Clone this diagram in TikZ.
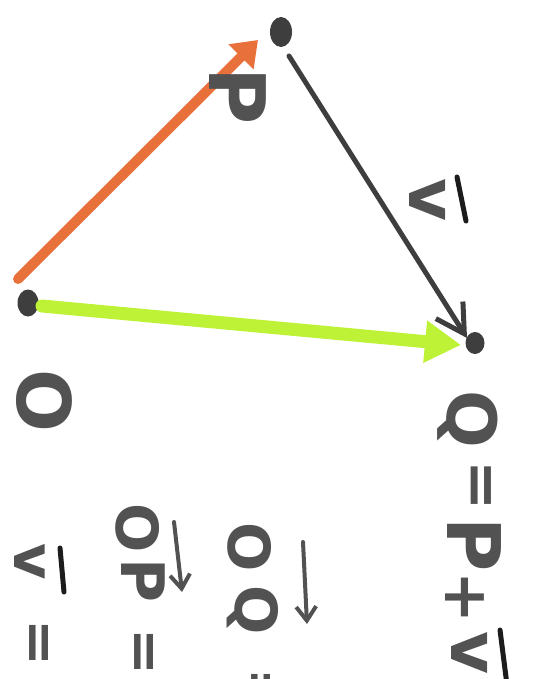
\documentclass[tikz,border=0pt]{standalone}
\usepackage{fontspec}
\setmainfont{DejaVu Sans}
\usetikzlibrary{arrows.meta,shapes.geometric}
\definecolor{orangeink}{HTML}{E8703A}
\definecolor{limeink}{HTML}{BEF236}
\definecolor{grayink}{HTML}{3E3E3E}
\definecolor{textink}{HTML}{525252}
\definecolor{barink}{HTML}{1C1C1C}
\begin{document}
\begin{tikzpicture}[x=1pt,y=-1pt,
  dot/.style={ellipse,fill=grayink,inner sep=0pt,minimum width=21pt,minimum height=27pt},
  hand/.style={text=textink,font=\bfseries\fontsize{#1}{#1}\selectfont,rotate=-90,inner sep=0pt},
  hand/.default=72,
  vbar/.style={draw=barink,line width=5pt,line cap=round},
  vecarrow/.style={draw=textink,line width=4pt,line cap=round,-{Straight Barb[length=14pt,width=20pt]}}
]
\useasboundingbox (0,0) rectangle (552,679);
\clip (0,0) rectangle (552,679);
% points
\node[dot] (O) at (28,303) {};
\node[dot,minimum width=22pt,minimum height=30pt] (P) at (281,32) {};
\node[dot,minimum width=19pt,minimum height=22pt] (Q) at (475,343) {};
% connector end points
\coordinate (os) at (18,279);
\coordinate (pe) at (258,40);
\coordinate (gs) at (42,306);
\coordinate (qe) at (461,345);
\coordinate (ps) at (289,56);
\coordinate (qg) at (467,338);
% vectors
\draw[orangeink,line width=10pt,line cap=round,-{Triangle[length=24pt,width=34pt]}] (os) -- (pe);
\draw[limeink,line width=13pt,line cap=round,-{Triangle[length=36pt,width=40pt]}] (gs) -- (qe);
\draw[grayink,line width=5pt,line cap=round,-{Straight Barb[length=28pt,width=32pt]}] (ps) -- (qg);
% labels in the figure
\node[hand=74] (lO) at (44,401) {O};
\node[hand=78] (lP) at (238,96) {P};
\node[hand=66] (lv) at (428,200) {v};
\coordinate (vb1) at (457,177);
\coordinate (vb2) at (466,221);
\draw[vbar] (vb1) -- (vb2);
% Q = P + v
\node[hand=68] (rQ) at (468,419) {Q};
\node[hand=60] (req) at (477,486) {=};
\node[hand=74] (rP) at (474,545) {P};
\node[hand=62] (rplus) at (465,597) {+};
\node[hand=66] (rv) at (470,653) {v};
\coordinate (rb1) at (500,630);
\coordinate (rb2) at (507,685);
\draw[vbar] (rb1) -- (rb2);
% v =
\node[hand=56] (av) at (30,562) {v};
\coordinate (ab1) at (60,548);
\coordinate (ab2) at (64,592);
\draw[vbar] (ab1) -- (ab2);
\node[hand=56] (aeq) at (35,643) {=};
% OP =
\node[hand=58] (bO) at (138,528) {O};
\node[hand=60] (bP) at (143,580) {P};
\coordinate (ba1) at (174,522);
\coordinate (ba2) at (182,592);
\draw[vecarrow] (ba1) -- (ba2);
\node[hand=56] (beq) at (140,652) {=};
% OQ =
\node[hand=58] (cO) at (250,547) {O};
\node[hand=58] (cQ) at (253,610) {Q};
\coordinate (ca1) at (303,542);
\coordinate (ca2) at (307,624);
\draw[vecarrow] (ca1) -- (ca2);
\node[hand=56] (ceq) at (257,692) {=};
\end{tikzpicture}
\end{document}
